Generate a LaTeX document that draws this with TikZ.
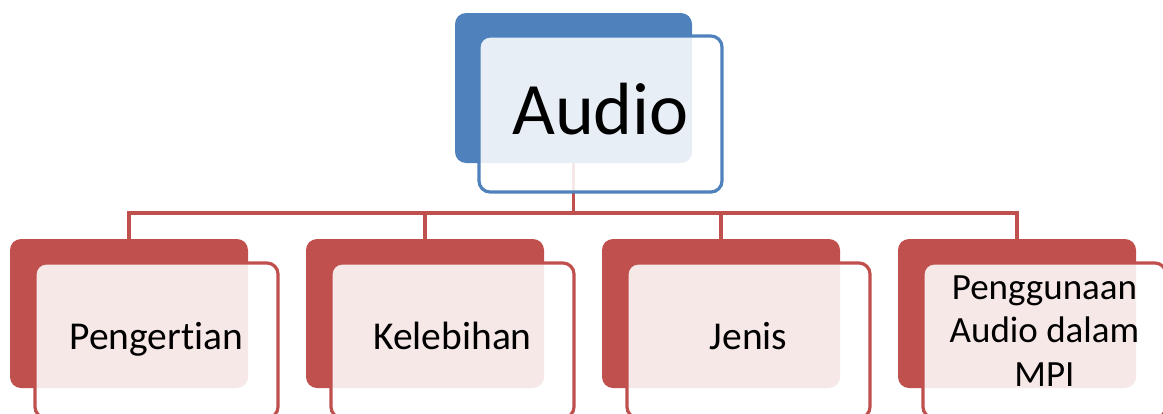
\documentclass[tikz,border=0pt]{standalone}
\usepackage{fontspec}
\setmainfont[Ligatures=NoCommon]{Carlito}
\begin{document}
\begin{tikzpicture}[x=1pt,y=-1pt,
  back/.style={rounded corners=11pt},
  front/.style={rounded corners=11pt, fill=white, fill opacity=0.87, line width=3.2pt},
  conn/.style={draw=redc, line width=3.5pt},
  lbl/.style={text opacity=1, align=center, font=\fontsize{39.5}{44}\selectfont},
]
\definecolor{bluec}{HTML}{4F81BD}
\definecolor{redc}{HTML}{C0504D}
\useasboundingbox (0,0) rectangle (1163,413);
\clip (0,0) rectangle (1163,413);
% connectors
\coordinate (hub) at (573.5,213);
\coordinate (topb) at (573.5,160);
\foreach \x/\n in {129/a,425/b,721/c,1017/d} {
  \coordinate (c\n) at (\x,213);
  \coordinate (t\n) at (\x,241);
}
\draw[conn] (topb) -- (hub);
\draw[conn, line cap=rect] (ca) -- (cd);
\foreach \n in {a,b,c,d} { \draw[conn] (c\n) -- (t\n); }
% top box
\fill[bluec, back] (455,13) rectangle (692,163);
\draw[front, draw=bluec] (479,36) rectangle (722,192);
\node[lbl, font=\fontsize{74}{80}\selectfont] (audio) at (600.5,109) {Audio};
% bottom boxes
\foreach \x/\n/\t in {10/a/Pengertian,306/b/Kelebihan,602/c/Jenis} {
  \fill[redc, back] (\x,239) rectangle ++(238,149);
  \draw[front, draw=redc] (\x+25,263) rectangle ++(243,155);
  \node[lbl, anchor=base] (n\n) at (\x+146.5,349) {\t};
}
\fill[redc, back] (898,239) rectangle ++(238,149);
\draw[front, draw=redc] (923,263) rectangle ++(243,155);
\node[lbl, font=\fontsize{37}{43.5}\selectfont] (nd) at (1044.5,331) {Penggunaan\\Audio dalam\\MPI};
\end{tikzpicture}
\end{document}
